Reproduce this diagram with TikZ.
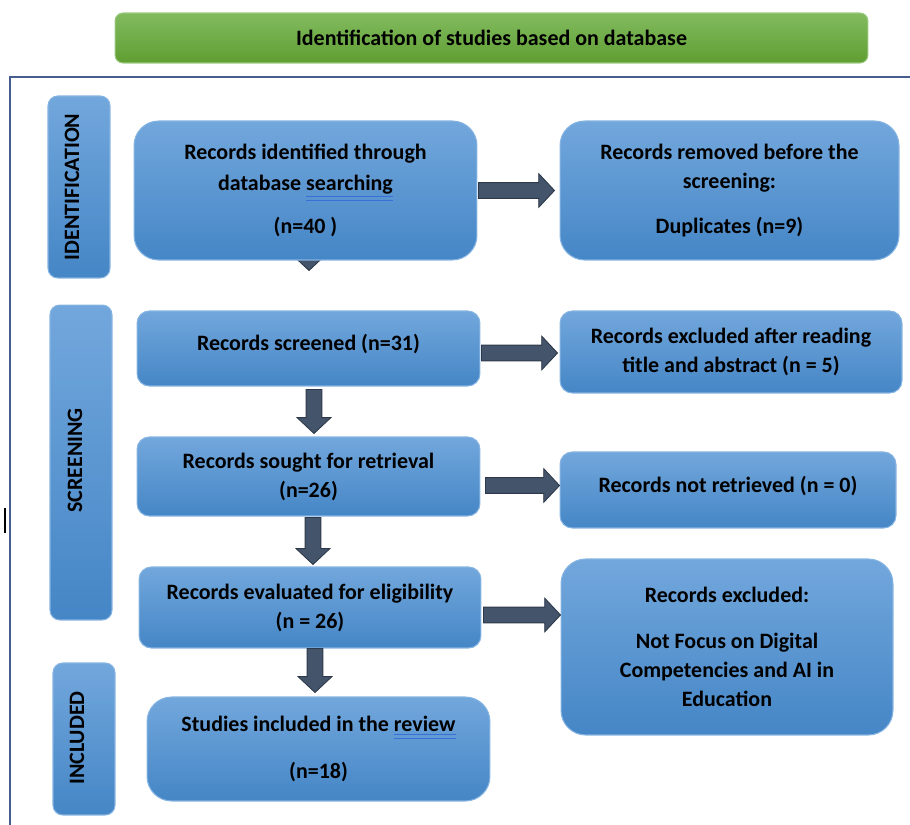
\documentclass[tikz,border=0pt]{standalone}
\usepackage{fontspec}
\setmainfont{Carlito}
\usetikzlibrary{calc, backgrounds}

\definecolor{boxtop}{HTML}{72A7DC}
\definecolor{boxbot}{HTML}{4586C6}
\definecolor{boxedge}{HTML}{86B4E2}
\definecolor{greentop}{HTML}{82BB5F}
\definecolor{greenbot}{HTML}{5F9E32}
\definecolor{arrowfill}{HTML}{44546A}
\definecolor{arrowedge}{HTML}{2E3A4B}
\definecolor{framecol}{HTML}{465E8E}
\definecolor{spellblue}{HTML}{3B6FD8}

% word marked by the spell checker
\newcommand{\spell}[1]{{\color{spellblue}\underline{\underline{\color{black}#1}}}}

\begin{document}
\begin{tikzpicture}[x=0.02cm, y=-0.02cm,
    stage/.style={rectangle, rounded corners=7pt, draw=boxedge, line width=0.6pt,
                  top color=boxtop, bottom color=boxbot, text=black, align=center,
                  inner sep=0pt, font=\bfseries\fontsize{12.5}{16.5}\selectfont},
    bigstage/.style={stage, rounded corners=14pt},
    side/.style={stage, rounded corners=5.5pt, minimum width=1.24cm},
    sidetext/.style={rotate=90, font=\bfseries\fontsize{12.5}{14}\selectfont},
    banner/.style={rectangle, rounded corners=4.5pt, draw=greentop!80!white, line width=0.6pt,
                   top color=greentop, bottom color=greenbot, minimum width=15.06cm,
                   minimum height=1cm, font=\bfseries\fontsize{12.5}{14}\selectfont},
    fat/.style={draw=arrowedge, fill=arrowfill, line width=0.5pt},
    harrow/.style={fat, to path={let \p1=(\tikztostart), \p2=(\tikztotarget) in
        (\x1,{\y1+4.5pt}) -- ({\x2-9pt},{\y1+4.5pt}) -- ({\x2-9pt},{\y1+9.6pt}) -- (\x2,\y1)
        -- ({\x2-9pt},{\y1-9.6pt}) -- ({\x2-9pt},{\y1-4.5pt}) -- (\x1,{\y1-4.5pt}) -- cycle}},
    varrow/.style={fat, to path={let \p1=(\tikztostart), \p2=(\tikztotarget) in
        ({\x1-4.5pt},\y1) -- ({\x1-4.5pt},{\y2+9pt}) -- ({\x1-9.6pt},{\y2+9pt}) -- (\x1,\y2)
        -- ({\x1+9.6pt},{\y2+9pt}) -- ({\x1+4.5pt},{\y2+9pt}) -- ({\x1+4.5pt},\y1) -- cycle}},
  ]
  \useasboundingbox (0,0) rectangle (910,825);

  % heading and frame
  \node[banner] (title) at (491.5,38) {Identification of studies based on database};
  \draw[framecol, line width=1.5pt] (910,77) -- (10,77) -- (10,825);
  \draw[line width=0.6pt] (5,508) -- (5,533);

  % stage labels
  \node[side, minimum height=3.64cm] (idbox)  at (79,187)    {};
  \node[side, minimum height=6.3cm]  (scrbox) at (81,462.5)  {};
  \node[side, minimum height=3.04cm] (incbox) at (84,739)    {};
  \node[sidetext] (idtext)  at ($(idbox)+(-7,0)$)  {IDENTIFICATION};
  \node[sidetext] (scrtext) at ($(scrbox)+(-6,-2)$) {SCREENING};
  \node[sidetext] (inctext) at ($(incbox)+(-7,-1)$) {INCLUDED};

  % main column
  \node[bigstage, minimum width=6.86cm, minimum height=2.78cm] (found) at (305.5,190.5)
    {Records identified through\\[1pt] database \spell{searching}\\[8pt] (n=40 )};
  \node[stage, minimum width=6.86cm, minimum height=1.5cm] (screened) at (308.5,348.5)
    {\raisebox{6.5pt}{Records screened (n=31)}};
  \node[stage, minimum width=6.86cm, minimum height=1.58cm] (sought) at (308.5,476.5)
    {Records sought for retrieval\\ (n=26)};
  \node[stage, minimum width=6.84cm, minimum height=1.62cm] (eligible) at (310,607.5)
    {Records evaluated for eligibility\\ (n = 26)};
  \node[bigstage, minimum width=6.86cm, minimum height=2.08cm] (included) at (318.5,749)
    {Studies included in the \spell{review}\\[10pt] (n=18)};

  % right column
  \node[bigstage, minimum width=6.78cm, minimum height=2.78cm] (removed) at (729.5,190.5)
    {Records removed before the\\ screening:\\[9pt] Duplicates (n=9)};
  \node[stage, minimum width=6.84cm, minimum height=1.64cm] (excluded) at (731,352)
    {Records excluded after reading\\ title and abstract (n = 5)};
  \node[stage, minimum width=6.72cm, minimum height=1.52cm] (notret) at (728,490)
    {\raisebox{6.5pt}{Records not retrieved (n = 0)}};
  \node[bigstage, minimum width=6.64cm, minimum height=3.52cm] (excl2) at (727,647)
    {Records excluded:\\[9.5pt] Not Focus on Digital\\ Competencies and AI in\\ Education};

  % block arrows
  \begin{scope}[on background layer]
    \draw[varrow] ($(found.south)+(3.5,-40)$) to ($(found.south)+(0,10)$);
  \end{scope}
  \draw[harrow] ($(found.east)+(1,0)$) to ($(removed.west)+(-5,0)$);
  \draw[harrow] ($(screened.east)+(1,4.5)$) to ($(excluded.west)+(-2,0)$);
  \draw[harrow] ($(sought.east)+(5,9)$) to (notret.west);
  \draw[harrow] ($(eligible.east)+(2,7.5)$) to (excl2.west);
  \draw[varrow] ($(screened.south)+(5.5,3)$) to ($(sought.north)+(0,-3)$);
  \draw[varrow] ($(sought.south)+(4.5,1)$) to ($(eligible.north)+(0,-2)$);
  \draw[varrow] ($(eligible.south)+(5,0)$) to ($(included.north)+(0,-4)$);
\end{tikzpicture}
\end{document}
